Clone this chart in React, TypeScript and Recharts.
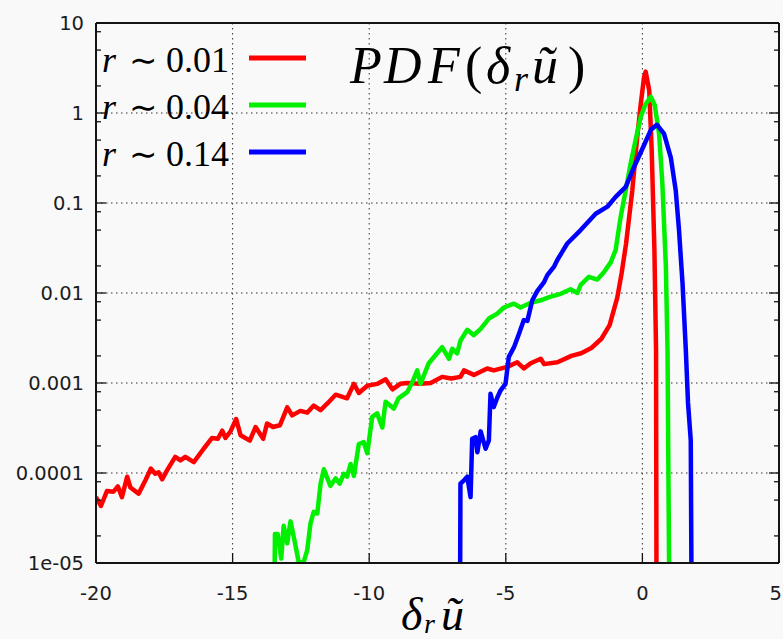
import React from "react";
import { LineChart, Line, XAxis, YAxis, CartesianGrid } from "recharts";

/**
 * PDF of velocity increments at three separations, log y axis.
 * Gnuplot look: inward ticks, dotted grid, mirrored axes.
 */

const W = 783;
const H = 639;
const MARGIN = { top: 22, right: 3, bottom: 75, left: 95 };

// r ~ 0.01
const redX = [
  -20.0, -19.82, -19.6, -19.36, -19.2, -19.05, -18.86, -18.74, -18.44, -18.19, -17.99, -17.83,
  -17.71, -17.58, -17.4, -17.1, -16.91, -16.73, -16.42, -16.06, -15.75, -15.54, -15.38, -15.26,
  -15.08, -14.87, -14.71, -14.37, -14.16, -13.88, -13.74, -13.52, -13.27, -13.0, -12.82, -12.52,
  -12.27, -12.03, -11.78, -11.54, -11.23, -10.81, -10.56, -10.38, -10.07, -9.71, -9.4, -9.15,
  -8.86, -8.61, -8.12, -7.75, -7.33, -7.0, -6.66, -6.53, -6.17, -5.68, -5.44, -4.95, -4.58,
  -4.34, -4.09, -3.72, -3.6, -3.11, -2.6, -2.24, -1.87, -1.5, -1.2, -0.92, -0.76, -0.6, -0.37,
  -0.19, -0.06, 0.06, 0.12, 0.25, 0.34, 0.44, 0.5, 0.52,
];
const redY = [
  5.4e-5, 4.3e-5, 6.3e-5, 6.2e-5, 7.1e-5, 5.4e-5, 9.1e-5, 6.9e-5, 5.9e-5, 8.3e-5, 1.12e-4, 9.8e-5,
  1.02e-4, 8.5e-5, 1.07e-4, 1.51e-4, 1.38e-4, 1.51e-4, 1.32e-4, 1.86e-4, 2.45e-4, 2.4e-4, 2.95e-4, 2.45e-4,
  2.88e-4, 3.98e-4, 2.63e-4, 2.29e-4, 3.24e-4, 2.4e-4, 3.55e-4, 3.24e-4, 3.39e-4, 5.37e-4, 4.37e-4, 4.9e-4,
  4.68e-4, 5.62e-4, 5.0e-4, 5.89e-4, 7.41e-4, 6.76e-4, 9.77e-4, 7.76e-4, 9.33e-4, 9.77e-4, 1.1e-3, 8.5e-4,
  9.8e-4, 1.0e-3, 9.8e-4, 1.0e-3, 1.17e-3, 1.12e-3, 1.17e-3, 1.38e-3, 1.23e-3, 1.45e-3, 1.38e-3, 1.51e-3, 1.7e-3,
  1.45e-3, 1.66e-3, 1.86e-3, 1.62e-3, 1.7e-3, 2.0e-3, 2.14e-3, 2.45e-3, 3.1e-3, 4.4e-3, 8.9e-3, 0.0166, 0.035, 0.138,
  0.54, 1.26, 2.5, 2.88, 1.78, 0.39, 0.0295, 2.3e-3, 1e-6,
];

// r ~ 0.04
const greenX = [
  -13.49, -13.45, -13.35, -13.22, -13.13, -13.0, -12.88, -12.76, -12.58, -12.4, -12.27, -12.15,
  -12.03, -11.9, -11.78, -11.66, -11.42, -11.23, -11.08, -10.93, -10.81, -10.68, -10.56, -10.38,
  -10.2, -10.07, -9.89, -9.71, -9.52, -9.4, -9.1, -8.92, -8.61, -8.42, -8.24, -8.12, -7.82, -7.33,
  -7.08, -6.96, -6.78, -6.66, -6.41, -6.17, -5.92, -5.62, -5.31, -5.07, -4.7, -4.46, -4.09, -3.72,
  -3.36, -2.99, -2.63, -2.38, -2.26, -1.96, -1.65, -1.41, -1.16, -0.98, -0.8, -0.61, -0.43, -0.25,
  -0.06, 0.12, 0.31, 0.45, 0.61, 0.73, 0.86, 0.92, 1.0,
];
const greenY = [
  1e-6, 2.1e-5, 2.1e-5, 1.12e-5, 2.6e-5, 1.66e-5, 2.9e-5, 1.95e-5, 1.02e-5, 1.02e-5, 1.38e-5, 2.75e-5,
  3.7e-5, 3.55e-5, 7.6e-5, 1.1e-4, 7.2e-5, 8.7e-5, 7.6e-5, 9.8e-5, 9.1e-5, 1.26e-4, 9.3e-5, 2.1e-4,
  2.2e-4, 1.66e-4, 4.2e-4, 4.6e-4, 3.2e-4, 6.2e-4, 5.2e-4, 6.8e-4, 7.9e-4, 1.02e-3, 1.38e-3, 9.8e-4, 1.66e-3, 2.5e-3,
  1.86e-3, 2.4e-3, 2.14e-3, 2.95e-3, 3.9e-3, 3.4e-3, 4.0e-3, 5.2e-3, 5.9e-3, 6.9e-3, 7.6e-3, 6.9e-3, 7.8e-3, 8.3e-3,
  9.1e-3, 9.8e-3, 0.011, 0.01, 0.0123, 0.0151, 0.0141, 0.017, 0.0219, 0.03, 0.069, 0.138, 0.275, 0.5,
  0.91, 1.26, 1.51, 1.23, 0.59, 0.166, 0.0195, 2.3e-3, 1e-6,
];

// r ~ 0.14
const blueX = [
  -6.68, -6.66, -6.53, -6.41, -6.29, -6.23, -6.11, -6.04, -5.92, -5.74, -5.62, -5.56, -5.44,
  -5.31, -5.19, -5.01, -4.89, -4.7, -4.52, -4.34, -4.21, -4.03, -3.85, -3.6, -3.48, -3.24, -3.11,
  -2.93, -2.75, -2.26, -1.71, -1.28, -0.98, -0.61, -0.31, 0.0, 0.31, 0.53, 0.79, 1.04, 1.22, 1.34,
  1.47, 1.59, 1.67, 1.77, 1.81,
];
const blueY = [
  1e-6, 7.6e-5, 8.3e-5, 9.1e-5, 5.4e-5, 2.4e-4, 2.5e-4, 1.7e-4, 2.9e-4, 1.86e-4, 2.3e-4, 7.6e-4, 5.4e-4,
  6.9e-4, 8.3e-4, 9.8e-4, 1.95e-3, 2.5e-3, 3.5e-3, 5.0e-3, 4.9e-3, 8.3e-3, 0.0105, 0.0132, 0.0158, 0.0195, 0.0234,
  0.0288, 0.0355, 0.05, 0.076, 0.091, 0.117, 0.151, 0.25, 0.4, 0.65, 0.74, 0.59, 0.32, 0.138, 0.05,
  0.0126, 2.3e-3, 6.0e-4, 2.3e-4, 1e-6,
];

const xTicks = [-20, -15, -10, -5, 0, 5];
const yMajor = [1e-5, 1e-4, 1e-3, 1e-2, 0.1, 1, 10];
const yLabels = ["1e-05", "0.0001", "0.001", "0.01", "0.1", "1", "10"];
const yMinor = [
  2e-5, 5e-5, 8e-5, 2e-4, 5e-4, 8e-4, 2e-3, 5e-3, 8e-3, 0.02, 0.05, 0.08, 0.2, 0.5, 0.8, 2, 5, 8,
];

const rValues = ["0.01", "0.04", "0.14"];
const colors = ["#ff0000", "#00f000", "#0000ff"];

const toPoints = (xs: number[], ys: number[]) => xs.map((x, i) => ({ x, y: ys[i] }));
const series = [toPoints(redX, redY), toPoints(greenX, greenY), toPoints(blueX, blueY)];

const yTicks = [...yMajor, ...yMinor].sort((a, b) => a - b);
const majorIndex = (v: number) => yMajor.findIndex((m) => Math.abs(m - v) / m < 1e-6);

const AXIS = "#141414";
const TICK_FONT = { fontFamily: "'DejaVu Sans', sans-serif", fontSize: 19.5, fill: "#1c1c1c" };
const MATH_FONT = "Liberation Serif";

// ticks point into the plot, gnuplot style
function LeftTick(props: any) {
  const { x, y, payload } = props;
  const i = majorIndex(payload.value);
  return (
    <g>
      <line x1={x} x2={x + (i >= 0 ? 10 : 5)} y1={y} y2={y} stroke={AXIS} strokeWidth={1.3} />
      {i >= 0 && (
        <text x={x - 12} y={y} dy="0.36em" textAnchor="end" {...TICK_FONT}>
          {yLabels[i]}
        </text>
      )}
    </g>
  );
}

function RightTick(props: any) {
  const { x, y, payload } = props;
  const major = majorIndex(payload.value) >= 0;
  return <line x1={x} x2={x - (major ? 10 : 5)} y1={y} y2={y} stroke={AXIS} strokeWidth={1.3} />;
}

function BottomTick(props: any) {
  const { x, y, payload } = props;
  // last label sits on the window edge; keep it inside
  const last = payload.value === xTicks[xTicks.length - 1];
  return (
    <g>
      <line x1={x} x2={x} y1={y} y2={y - 10} stroke={AXIS} strokeWidth={1.3} />
      <text x={last ? W - 1 : x} y={y + 37} textAnchor={last ? "end" : "middle"} {...TICK_FONT}>
        {payload.value}
      </text>
    </g>
  );
}

function TopTick(props: any) {
  const { x, y } = props;
  return <line x1={x} x2={x} y1={y} y2={y + 10} stroke={AXIS} strokeWidth={1.3} />;
}

export default function App() {
  const legendTop = [72, 119, 166];

  return (
    <div style={{ position: "absolute", left: 0, top: 0, width: W, height: H, background: "#f9f9f9", overflow: "hidden" }}>
      <LineChart width={W} height={H} margin={MARGIN}>
        <CartesianGrid
          horizontalValues={yMajor.slice(1, -1)}
          verticalValues={xTicks.slice(1, -1)}
          stroke="#333"
          strokeDasharray="1.5 3.5"
          strokeWidth={1}
        />
        <XAxis
          dataKey="x"
          type="number"
          domain={[-20, 5]}
          ticks={xTicks}
          interval={0}
          allowDataOverflow
          height={1}
          tickSize={0}
          tickMargin={0}
          tick={<BottomTick />}
          axisLine={{ stroke: AXIS, strokeWidth: 2 }}
        />
        <XAxis
          xAxisId="top"
          orientation="top"
          type="number"
          domain={[-20, 5]}
          ticks={xTicks}
          interval={0}
          allowDataOverflow
          height={1}
          tickSize={0}
          tickMargin={0}
          tick={<TopTick />}
          axisLine={{ stroke: AXIS, strokeWidth: 2 }}
        />
        <YAxis
          scale="log"
          type="number"
          domain={[1e-5, 10]}
          ticks={yTicks}
          interval={0}
          allowDataOverflow
          width={1}
          tickSize={0}
          tickMargin={0}
          tick={<LeftTick />}
          axisLine={{ stroke: AXIS, strokeWidth: 2 }}
        />
        <YAxis
          yAxisId="right"
          orientation="right"
          scale="log"
          type="number"
          domain={[1e-5, 10]}
          ticks={yTicks}
          interval={0}
          allowDataOverflow
          width={1}
          tickSize={0}
          tickMargin={0}
          tick={<RightTick />}
          axisLine={{ stroke: AXIS, strokeWidth: 2 }}
        />
        {series.map((pts, i) => (
          <Line
            key={i}
            data={pts}
            dataKey="y"
            type="linear"
            stroke={colors[i]}
            strokeWidth={4.5}
            strokeLinejoin="round"
            dot={false}
            activeDot={false}
            isAnimationActive={false}
          />
        ))}
      </LineChart>

      {/* legend, title and axis label set in a math-like serif */}
      <svg width={W} height={H} style={{ position: "absolute", left: 0, top: 0, pointerEvents: "none" }}>
        {rValues.map((r, i) => (
          <g key={r}>
            <text x={102} y={legendTop[i]} fontFamily={MATH_FONT} fontSize={36} fill="#000">
              <tspan fontStyle="italic">r</tspan>
              <tspan x={129} fontSize={34}>∼</tspan>
              <tspan x={166}>{r}</tspan>
            </text>
            <line x1={249} x2={306} y1={legendTop[i] - 14} y2={legendTop[i] - 14} stroke={colors[i]} strokeWidth={5} />
          </g>
        ))}
        <text y={83} fontFamily={MATH_FONT} fontSize={52} fill="#000">
          <tspan x={350} fontStyle="italic">P</tspan>
          <tspan x={384} fontStyle="italic">D</tspan>
          <tspan x={428} fontStyle="italic">F</tspan>
          <tspan x={465}>(</tspan>
          <tspan x={486} fontStyle="italic">δ</tspan>
          <tspan x={514} fontStyle="italic" fontSize={36} dy={8}>r</tspan>
          <tspan x={532} fontStyle="italic" dy={-8}>ũ</tspan>
          <tspan x={568}>)</tspan>
        </text>
        <text y={630} fontFamily={MATH_FONT} fontSize={46} fill="#000">
          <tspan x={401} fontStyle="italic">δ</tspan>
          <tspan x={424} fontStyle="italic" fontSize={28} dy={3}>r</tspan>
          <tspan x={441} fontStyle="italic" dy={-3}>ũ</tspan>
        </text>
      </svg>
    </div>
  );
}
